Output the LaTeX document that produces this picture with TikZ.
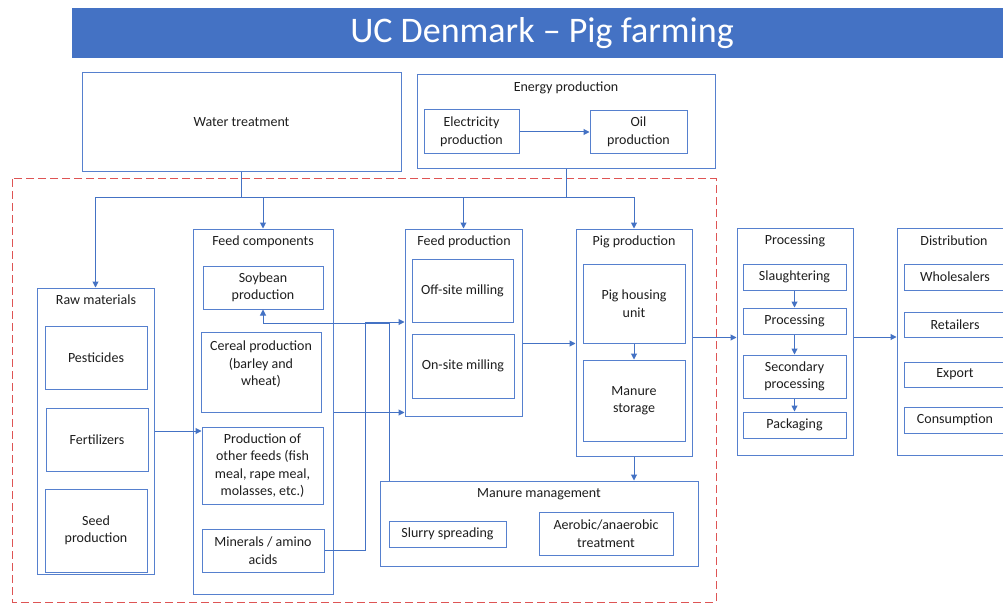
\documentclass[tikz,border=0pt]{standalone}
\usepackage{fontspec}
\setmainfont{Carlito}
\usetikzlibrary{arrows.meta,calc}
\definecolor{titlebg}{RGB}{68,114,196}
\definecolor{boxc}{RGB}{86,128,206}
\definecolor{linec}{RGB}{68,114,196}
\definecolor{dashred}{RGB}{222,84,84}
\definecolor{txtc}{RGB}{30,30,30}
\tikzset{
  box/.style={draw=boxc, line width=1pt, inner sep=0pt, align=center, text=txtc,
    font=\fontsize{14}{17.5}\selectfont},
  lbl/.style={inner sep=0pt, text=txtc, font=\fontsize{14}{17.5}\selectfont},
  conn/.style={draw=linec, line width=1pt},
  arr/.style={conn, -{Triangle[length=6pt,width=6pt]}},
}
\begin{document}
\begin{tikzpicture}[x=1pt,y=-1pt]
\useasboundingbox (0,0) rectangle (1003,604);
\clip (0,0) rectangle (1003,604);
\fill[white] (0,0) rectangle (1003,604);
% title bar
\fill[titlebg] (72,8) rectangle (1003,58);
\node[text=white, font=\fontsize{36}{40}\selectfont, inner sep=0pt] (title) at (542,33) {UC Denmark – Pig farming};

% dashed boundary
\draw[dashred, line width=1pt, dash pattern=on 8pt off 4pt] (12,179) rectangle (716,602);

% top boxes
\node[box, minimum width=319pt, minimum height=99pt] (water) at (241.5,122.5) {Water treatment};
\node[box, minimum width=298pt, minimum height=94pt] (energy) at (566,122) {};
\node[lbl] (energyt) at (566,88) {Energy production};
\node[box, minimum width=95pt, minimum height=44pt] (elec) at (471.5,132) {Electricity\\production};
\node[box, minimum width=97pt, minimum height=43pt] (oil) at (638.5,132) {Oil\\production};

% raw materials
\node[box, minimum width=117pt, minimum height=286pt] (raw) at (95.5,431) {};
\node[lbl] (rawt) at (96,300) {Raw materials};
\node[box, minimum width=102pt, minimum height=63pt] (pest) at (96,357.5) {Pesticides};
\node[box, minimum width=102pt, minimum height=63pt] (fert) at (97,439.5) {Fertilizers};
\node[box, minimum width=102pt, minimum height=83pt] (seed) at (96,530.5) {Seed\\production};

% feed components
\node[box, minimum width=140pt, minimum height=365pt] (fc) at (263,411.5) {};
\node[lbl] (fct) at (263,242) {Feed components};
\node[box, minimum width=120pt, minimum height=43pt] (soy) at (263,287.5) {Soybean\\production};
\node[box, minimum width=120pt, minimum height=80pt] (cer) at (261,372) {Cereal production\\(barley and\\wheat)\\\mbox{}};
\node[box, minimum width=121pt, minimum height=77pt] (oth) at (262.5,465.5) {Production of\\other feeds (fish\\meal, rape meal,\\molasses, etc.)};
\node[box, minimum width=122pt, minimum height=43pt] (min) at (263,550.5) {Minerals / amino\\acids};

% feed production
\node[box, minimum width=117pt, minimum height=187pt] (fp) at (463.5,322.5) {};
\node[lbl] (fpt) at (464,242) {Feed production};
\node[box, minimum width=101pt, minimum height=63pt] (off) at (462.5,290.5) {Off-site milling};
\node[box, minimum width=102pt, minimum height=64pt] (on) at (463,366) {On-site milling};

% pig production
\node[box, minimum width=116pt, minimum height=227pt] (pp) at (634,342.5) {};
\node[lbl] (ppt) at (634,242) {Pig production};
\node[box, minimum width=102pt, minimum height=79pt] (ph) at (634,303.5) {Pig housing\\unit};
\node[box, minimum width=102pt, minimum height=81pt] (ms) at (634,400.5) {Manure\\storage};

% manure management
\node[box, minimum width=318pt, minimum height=85pt] (mm) at (539,523.5) {};
\node[lbl] (mmt) at (539,494) {Manure management};
\node[box, minimum width=117pt, minimum height=26pt] (slurry) at (447.5,534) {Slurry spreading};
\node[box, minimum width=134pt, minimum height=43pt] (aer) at (606,533.5) {Aerobic/anaerobic\\treatment};

% processing
\node[box, minimum width=116pt, minimum height=227pt] (proc) at (795,341.5) {};
\node[lbl] (proct) at (795,241) {Processing};
\node[box, minimum width=103pt, minimum height=26pt] (sl) at (794.5,277) {Slaughtering};
\node[box, minimum width=103pt, minimum height=26pt] (pr) at (794.5,321) {Processing};
\node[box, minimum width=103pt, minimum height=43pt] (sec) at (794.5,376.5) {Secondary\\processing};
\node[box, minimum width=103pt, minimum height=26pt] (pk) at (794.5,425) {Packaging};

% distribution
\node[box, minimum width=114pt, minimum height=227pt] (dist) at (954,341.5) {};
\node[lbl] (distt) at (954,241) {Distribution};
\node[box, minimum width=102pt, minimum height=26pt] (whs) at (955,277) {Wholesalers};
\node[box, minimum width=102pt, minimum height=25pt] (ret) at (955,324.5) {Retailers};
\node[box, minimum width=102pt, minimum height=25pt] (exp) at (955,374.5) {Export};
\node[box, minimum width=102pt, minimum height=26pt] (con) at (955,420) {Consumption};

% connectors
\coordinate (jw) at (241.5,197);
\coordinate (je) at (566,197);
\draw[conn] (water.south) -- (jw);
\draw[conn] (energy.south) -- (je);
\draw[conn] (jw) -- (je);
\draw[arr] (jw) -| (raw.north);
\draw[arr] (jw) -| (fc.north);
\draw[arr] (je) -| (fp.north);
\draw[arr] (je) -| (pp.north);
\draw[arr] (elec) -- (oil);
\draw[arr] (raw.east) -- (raw.east -| oth.west);
\coordinate (m1) at (389,323);
\draw[arr] (mm.north -| m1) -- (m1) -| (soy.south);
\coordinate (m2) at (365,322);
\draw[arr] (min.east) -| (m2) -- (m2 -| fp.west);
\draw[arr] (fc.east |- cer.south) -- (fp.west |- cer.south);
\draw[arr] (fp.east |- ph.south) -- (pp.west |- ph.south);
\draw[arr] (ph) -- (ms);
\draw[arr] (pp.south) -- (pp.south |- mm.north);
\coordinate (m3) at ($(pp.east)+(0,-5)$);
\draw[arr] (m3) -- (m3 -| proc.west);
\coordinate (m4) at ($(proc.east)+(0,-4.5)$);
\draw[arr] (m4) -- (m4 -| dist.west);
\draw[arr] (sl) -- (pr);
\draw[arr] (pr) -- (sec);
\draw[arr] (sec) -- (pk);
\end{tikzpicture}
\end{document}
